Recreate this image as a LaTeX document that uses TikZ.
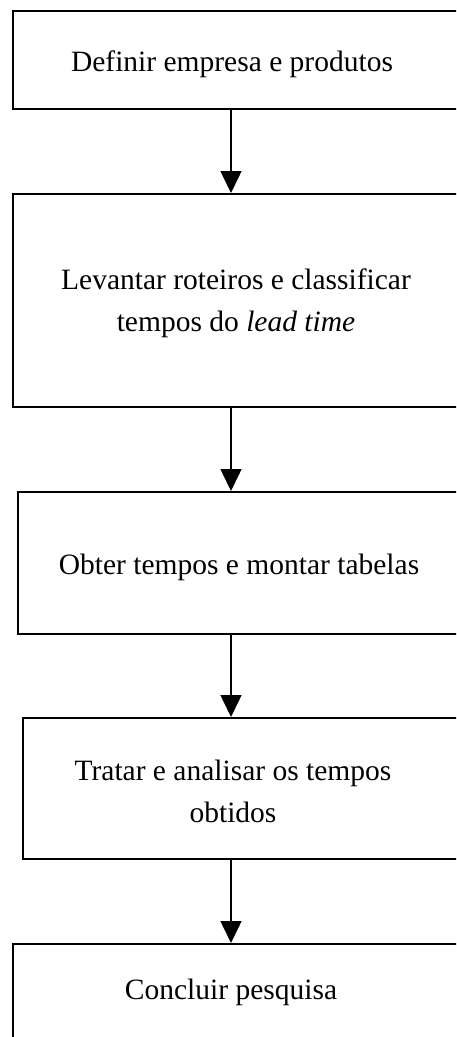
\documentclass[tikz,border=0pt]{standalone}
\usepackage{fontspec}
\setmainfont{Liberation Serif}
\usetikzlibrary{arrows.meta}
\begin{document}
\begin{tikzpicture}[x=1pt,y=-1pt,
  stagebox/.style={draw=black,line width=2pt,rectangle,inner sep=0pt,anchor=north west},
  stagetext/.style={align=center,font=\fontsize{29.5}{42}\selectfont,inner sep=0pt},
  flow/.style={line width=1.5pt,-{Triangle[width=21pt,length=22pt]}}]
\useasboundingbox (0,0) rectangle (456,1037);
\clip (0,0) rectangle (456,1037);
% stage boxes (right edges run past the page)
\node[stagebox,minimum width=460pt,minimum height=98pt] (b1) at (12,10) {};
\node[stagebox,minimum width=460pt,minimum height=213pt] (b2) at (12,193) {};
\node[stagebox,minimum width=455pt,minimum height=142pt] (b3) at (17,491) {};
\node[stagebox,minimum width=450pt,minimum height=141pt] (b4) at (22,717) {};
\node[stagebox,minimum width=460pt,minimum height=110pt] (b5) at (12,943) {};
% labels
\node[stagetext] (t1) at (232,64) {Definir empresa e produtos};
\node[stagetext] (t2) at (236,303) {Levantar roteiros e classificar\\tempos do \textit{lead time}};
\node[stagetext] (t3) at (239,567) {Obter tempos e montar tabelas};
\node[stagetext] (t4) at (233,791) {Tratar e analisar os tempos\\obtidos};
\node[stagetext] (t5) at (231,992) {Concluir pesquisa};
% connectors
\coordinate (ax) at (231,0);
\draw[flow] (b1.south -| ax) -- (b2.north -| ax);
\draw[flow] (b2.south -| ax) -- (b3.north -| ax);
\draw[flow] (b3.south -| ax) -- (b4.north -| ax);
\draw[flow] (b4.south -| ax) -- (b5.north -| ax);
\end{tikzpicture}
\end{document}
